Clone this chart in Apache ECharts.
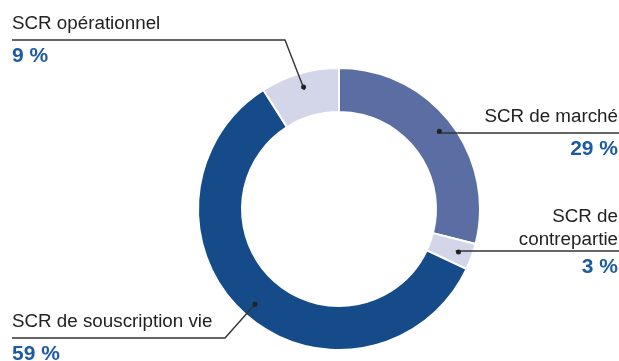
<!DOCTYPE html>
<html>
<head>
<meta charset="utf-8">
<script src="https://cdn.jsdelivr.net/npm/echarts@6/dist/echarts.min.js"></script>
<style>
  html, body { margin: 0; padding: 0; background: #fff; }
  #chart { width: 619px; height: 361px; }
</style>
</head>
<body>
<div id="chart"></div>
<script>
// SCR breakdown, clockwise from 12 o'clock
var categories = ['SCR de marché', 'SCR de\ncontrepartie', 'SCR de souscription vie', 'SCR opérationnel'];
var shares = [29, 3, 59, 9];
var colors = ['#5a6ea4', '#d3d6e8', '#154b88', '#d3d6e8'];

// ring geometry
var CX = 339, CY = 209, R_IN = 97, R_OUT = 141, R_DOT = 124;
var PCT_LH = 33;
// where each label goes: side, underline y and bend x (left side only)
var labelPos = [
  { side: 'right' },
  { side: 'right' },
  { side: 'left', lineY: 338, bendX: 225 },
  { side: 'left', lineY: 40, bendX: 285 }
];

var chart = echarts.init(document.getElementById('chart'));

function makeData(colored) {
  return categories.map(function (c, i) {
    return { name: c, value: shares[i], itemStyle: { color: colored ? colors[i] : 'rgba(0,0,0,0)' } };
  });
}

chart.setOption({
  animation: false,
  textStyle: { fontFamily: 'Liberation Sans, Arial, sans-serif' },
  series: [
    {
      // the ring itself
      type: 'pie',
      z: 2,
      center: [CX, CY],
      radius: [R_IN, R_OUT],
      startAngle: 90,
      emphasis: { disabled: true },
      itemStyle: { borderColor: '#fff', borderWidth: 2 },
      label: { show: false },
      labelLine: { show: false },
      data: makeData(true)
    },
    {
      // transparent twin carrying labels + leader lines, so lines sit above the ring
      type: 'pie',
      z: 3,
      silent: true,
      center: [CX, CY],
      radius: [R_IN, R_OUT],
      startAngle: 90,
      emphasis: { disabled: true },
      itemStyle: { borderWidth: 0 },
      label: {
        show: true,
        position: 'outside',
        overflow: 'none',
        formatter: function (p) {
          var lines = p.name.split('\n');
          var st = lines.length > 1 ? 'n2' : 'n';
          return lines.map(function (l) { return '{' + st + '|' + l + '}'; }).join('\n') +
            '\n{p|' + p.value + ' %}';
        },
        rich: {
          n: { fontSize: 18.8, color: '#222', lineHeight: 33 },
          n2: { fontSize: 18.8, color: '#222', lineHeight: 23 },
          p: { fontSize: 21, fontWeight: 'bold', color: '#1d5ba1', lineHeight: PCT_LH }
        }
      },
      labelLine: { show: true, smooth: false, lineStyle: { color: '#333', width: 1.4 } },
      labelLayout: function (p) {
        var pos = labelPos[p.dataIndex];
        var a = p.labelLinePoints[0];
        var dx = a[0] - CX, dy = a[1] - CY;
        var d = Math.sqrt(dx * dx + dy * dy);
        var ax = CX + dx / d * R_DOT, ay = CY + dy / d * R_DOT;
        var w = chart.getWidth();
        if (pos.side === 'right') {
          return {
            x: w - 1, y: ay + PCT_LH, align: 'right', verticalAlign: 'bottom',
            labelLinePoints: [[ax, ay], [ax, ay], [w, ay]]
          };
        }
        return {
          x: 12, y: pos.lineY + PCT_LH, align: 'left', verticalAlign: 'bottom',
          labelLinePoints: [[ax, ay], [pos.bendX, pos.lineY], [12, pos.lineY]]
        };
      },
      data: makeData(false)
    },
    {
      // anchor dots on the ring
      type: 'pie',
      z: 4,
      silent: true,
      center: [CX, CY],
      radius: [R_DOT * 2 - R_OUT, R_OUT],
      startAngle: 90,
      emphasis: { disabled: true },
      itemStyle: { borderWidth: 0 },
      label: {
        show: true,
        position: 'inside',
        formatter: '{d|}',
        rich: { d: { width: 5, height: 5, borderRadius: 2.5, backgroundColor: '#222' } }
      },
      labelLine: { show: false },
      data: makeData(false)
    }
  ]
});
</script>
</body>
</html>
